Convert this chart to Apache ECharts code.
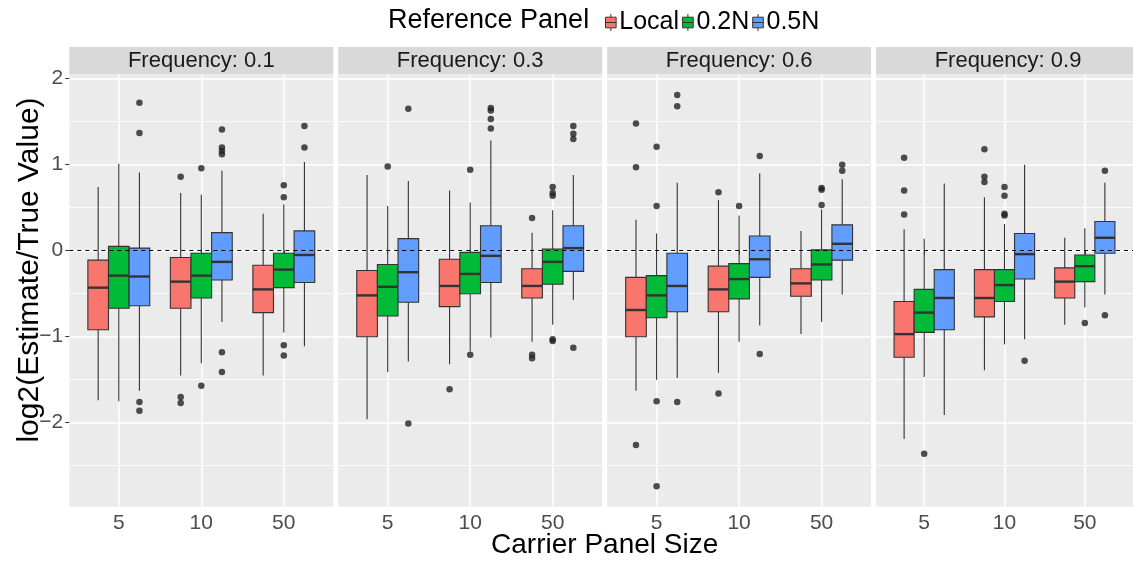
<!DOCTYPE html>
<html>
<head>
<meta charset="utf-8">
<script src="https://cdn.jsdelivr.net/npm/echarts@6/dist/echarts.min.js"></script>
<style>
  html, body { margin: 0; padding: 0; background: #fff; }
  #chart { width: 1133px; height: 561px; }
</style>
</head>
<body>
<div id="chart"></div>
<script>
const panels = ['Frequency: 0.1', 'Frequency: 0.3', 'Frequency: 0.6', 'Frequency: 0.9']
const carrierSizes = ['5', '10', '50']
const groups = ['Local', '0.2N', '0.5N']
const groupColors = ['#F8766D', '#00BA38', '#619CFF']
const yTicks = [-2, -1, 0, 1, 2]
const yMinorTicks = [-2.5, -1.5, -0.5, 0.5, 1.5]

// box stats, one row per carrier size (5, 10, 50): [lower whisker, q1, median, q3, upper whisker]
const boxFreq01 = {
  'Local': [[-1.74, -0.92, -0.43, -0.11, 0.74], [-1.45, -0.67, -0.36, -0.08, 0.67], [-1.45, -0.72, -0.45, -0.17, 0.43]],
  '0.2N': [[-1.75, -0.67, -0.29, 0.05, 1.01], [-1.31, -0.55, -0.29, -0.03, 0.65], [-0.95, -0.43, -0.22, -0.03, 0.54]],
  '0.5N': [[-1.63, -0.64, -0.30, 0.03, 0.91], [-0.83, -0.34, -0.13, 0.21, 0.93], [-1.11, -0.37, -0.05, 0.23, 1.03]]
}
const boxFreq03 = {
  'Local': [[-1.96, -1.00, -0.52, -0.23, 0.88], [-1.32, -0.65, -0.41, -0.10, 0.70], [-1.06, -0.55, -0.41, -0.21, 0.21]],
  '0.2N': [[-1.41, -0.76, -0.42, -0.16, 0.52], [-1.17, -0.50, -0.27, -0.02, 0.56], [-0.86, -0.39, -0.13, 0.02, 0.47]],
  '0.5N': [[-1.29, -0.60, -0.25, 0.14, 0.81], [-1.01, -0.37, -0.06, 0.29, 1.28], [-0.57, -0.24, 0.03, 0.29, 0.88]]
}
const boxFreq06 = {
  'Local': [[-1.63, -1.00, -0.69, -0.31, 0.36], [-1.42, -0.71, -0.45, -0.18, 0.59], [-0.97, -0.53, -0.38, -0.21, 0.23]],
  '0.2N': [[-1.50, -0.78, -0.52, -0.29, 0.20], [-1.06, -0.56, -0.33, -0.15, 0.41], [-0.83, -0.34, -0.16, 0.01, 0.48]],
  '0.5N': [[-1.48, -0.71, -0.41, -0.03, 0.79], [-0.87, -0.31, -0.10, 0.17, 0.90], [-0.51, -0.11, 0.08, 0.30, 0.83]]
}
const boxFreq09 = {
  'Local': [[-2.19, -1.24, -0.97, -0.59, 0.25], [-1.39, -0.77, -0.55, -0.22, 0.62], [-0.86, -0.55, -0.36, -0.20, 0.15]],
  '0.2N': [[-1.47, -0.95, -0.72, -0.45, 0.14], [-1.09, -0.59, -0.40, -0.22, 0.31], [-0.66, -0.36, -0.18, -0.05, 0.26]],
  '0.5N': [[-1.91, -0.92, -0.55, -0.22, 0.78], [-1.03, -0.33, -0.04, 0.20, 1.00], [-0.51, -0.03, 0.15, 0.34, 0.79]]
}

// outliers, one list per carrier size (5, 10, 50)
const outFreq01 = {
  'Local': [[], [0.86, -1.70, -1.77], []],
  '0.2N': [[], [0.96, -1.57], [0.76, 0.62, -1.10, -1.22]],
  '0.5N': [[1.72, 1.37, -1.76, -1.86], [1.41, 1.20, 1.16, 1.12, -1.18, -1.41], [1.45, 1.20]]
}
const outFreq03 = {
  'Local': [[], [-1.61], [0.38, -1.21, -1.25]],
  '0.2N': [[0.98], [0.94, -1.21], [0.74, 0.67, 0.64, -1.03, -1.05]],
  '0.5N': [[1.65, -2.01], [1.66, 1.63, 1.53, 1.42], [1.45, 1.36, 1.30, -1.13]]
}
const outFreq06 = {
  'Local': [[1.48, 0.97, -2.26], [0.68, -1.66], []],
  '0.2N': [[1.21, 0.52, -1.75, -2.74], [0.52], [0.73, 0.71, 0.53]],
  '0.5N': [[1.81, 1.68, -1.76], [1.10, -1.20], [1.00, 0.93]]
}
const outFreq09 = {
  'Local': [[1.08, 0.70, 0.42], [1.18, 0.86, 0.80], []],
  '0.2N': [[-2.36], [0.74, 0.64, 0.43, 0.41], [-0.84]],
  '0.5N': [[], [-1.28], [0.93, -0.75]]
}

const boxStats = [boxFreq01, boxFreq03, boxFreq06, boxFreq09]
const outliers = [outFreq01, outFreq03, outFreq06, outFreq09]

const FONT = '"Liberation Sans", Arial, sans-serif'
const groupOffsets = [-0.25, 0, 0.25]
const boxWidth = 0.25
const yMin = -2.977
const yMax = 2.043
const panelLeft = 69.3
const panelStep = 268.9
const panelWidth = 264
const panelTop = 75
const panelHeight = 431.7

const renderBox = (params, api) => {
  const x = api.value(0)
  const lo = api.coord([x, api.value(1)])
  const q1 = api.coord([x, api.value(2)])
  const med = api.coord([x, api.value(3)])
  const q3 = api.coord([x, api.value(4)])
  const hi = api.coord([x, api.value(5)])
  const w = api.size([boxWidth, 0])[0]
  const line = { stroke: '#333333', lineWidth: 1.1 }
  return {
    type: 'group',
    children: [
      { type: 'line', shape: { x1: lo[0], y1: lo[1], x2: lo[0], y2: q1[1] }, style: line },
      { type: 'line', shape: { x1: hi[0], y1: hi[1], x2: hi[0], y2: q3[1] }, style: line },
      {
        type: 'rect',
        shape: { x: q3[0] - w / 2, y: q3[1], width: w, height: q1[1] - q3[1] },
        style: { fill: api.visual('color'), stroke: '#333333', lineWidth: 1.1 }
      },
      {
        type: 'line',
        shape: { x1: med[0] - w / 2, y1: med[1], x2: med[0] + w / 2, y2: med[1] },
        style: { stroke: '#333333', lineWidth: 2.4 }
      }
    ]
  }
}

const grids = []
const xAxes = []
const yAxes = []
const series = []
const graphics = []

panels.forEach((panel, pi) => {
  const left = panelLeft + pi * panelStep
  grids.push({
    left: left, top: panelTop, width: panelWidth, height: panelHeight,
    show: true, backgroundColor: '#ebebeb', borderWidth: 0
  })
  xAxes.push({
    type: 'value', gridIndex: pi, min: 0.4, max: 3.6,
    axisLine: { show: false },
    axisTick: { show: true, length: 4, customValues: [1, 2, 3], lineStyle: { color: '#333333', width: 1 } },
    axisLabel: {
      customValues: [1, 2, 3], formatter: v => carrierSizes[Math.round(v) - 1],
      color: '#4d4d4d', fontSize: 21, fontFamily: FONT, margin: 6
    },
    splitLine: { show: true, lineStyle: { color: '#ffffff', width: 1.5 } }
  })
  yAxes.push({
    type: 'value', gridIndex: pi, min: yMin, max: yMax, position: 'left',
    axisLine: { show: false },
    axisTick: { show: pi === 0, length: 4, customValues: yTicks, lineStyle: { color: '#333333', width: 1 } },
    axisLabel: {
      show: pi === 0, customValues: yTicks, formatter: v => (v < 0 ? '\u2212' + Math.abs(v) : String(v)),
      color: '#4d4d4d', fontSize: 21, fontFamily: FONT, margin: 6
    },
    splitLine: { show: true, lineStyle: { color: '#ffffff', width: 1.5 } }
  })
  yAxes.push({
    type: 'value', gridIndex: pi, min: yMin, max: yMax, position: 'left',
    axisLine: { show: false },
    axisTick: { show: false, customValues: yMinorTicks },
    axisLabel: { show: false, customValues: yMinorTicks },
    splitLine: { show: true, lineStyle: { color: '#ffffff', width: 0.8 } }
  })

  groups.forEach((g, gi) => {
    series.push({
      type: 'custom', name: g, xAxisIndex: pi, yAxisIndex: pi * 2,
      renderItem: renderBox,
      itemStyle: { color: groupColors[gi] },
      encode: { x: 0, y: [1, 2, 3, 4, 5] },
      data: boxStats[pi][g].map((s, ci) => [ci + 1 + groupOffsets[gi]].concat(s)),
      z: 3, silent: true
    })
  })

  const pts = []
  groups.forEach((g, gi) => {
    outliers[pi][g].forEach((vals, ci) => {
      vals.forEach(v => pts.push([ci + 1 + groupOffsets[gi], v]))
    })
  })
  series.push({
    type: 'scatter', xAxisIndex: pi, yAxisIndex: pi * 2, data: pts,
    symbol: 'circle', symbolSize: 6.5, itemStyle: { color: '#222222' }, z: 4, silent: true,
    markLine: {
      silent: true, symbol: 'none', label: { show: false },
      lineStyle: { color: '#000000', type: [4, 4], width: 1 },
      data: [{ yAxis: 0 }], z: 5
    }
  })

  // facet strip
  graphics.push({
    type: 'rect', left: left, top: 47, silent: true,
    shape: { width: panelWidth, height: 27.5 }, style: { fill: '#d9d9d9' }
  })
  graphics.push({
    type: 'text', x: left + panelWidth / 2, y: 61, silent: true,
    style: { text: panel, fill: '#1a1a1a', font: '22px ' + FONT, align: 'center', verticalAlign: 'middle' }
  })
})

graphics.push({
  type: 'text', x: panelLeft + (panelStep * 3 + panelWidth) / 2, y: 545, silent: true,
  style: { text: 'Carrier Panel Size', fill: '#000000', font: '28px ' + FONT, align: 'center', verticalAlign: 'middle' }
})
graphics.push({
  type: 'text', x: 30, y: 270, rotation: Math.PI / 2, silent: true,
  style: { text: 'log2(Estimate/True Value)', fill: '#000000', font: '30px ' + FONT, align: 'center', verticalAlign: 'middle' }
})
graphics.push({
  type: 'text', x: 388, y: 21, silent: true,
  style: { text: 'Reference Panel', fill: '#000000', font: '27px ' + FONT, align: 'left', verticalAlign: 'middle' }
})

const chart = echarts.init(document.getElementById('chart'), null, { renderer: 'canvas' })
chart.setOption({
  animation: false,
  backgroundColor: '#ffffff',
  grid: grids,
  xAxis: xAxes,
  yAxis: yAxes,
  legend: {
    data: groups, left: 600, top: 5, itemWidth: 13, itemHeight: 17, itemGap: 3,
    icon: 'path://M0,3L10,3L10,13L0,13Z M0,8L10,8 M5,0L5,3 M5,13L5,16',
    itemStyle: { borderColor: '#333333', borderWidth: 1 },
    textStyle: { fontSize: 25, color: '#000000', fontFamily: FONT, padding: [0, 0, 0, -3] },
    selectedMode: false
  },
  graphic: graphics,
  series: series
})
</script>
</body>
</html>
